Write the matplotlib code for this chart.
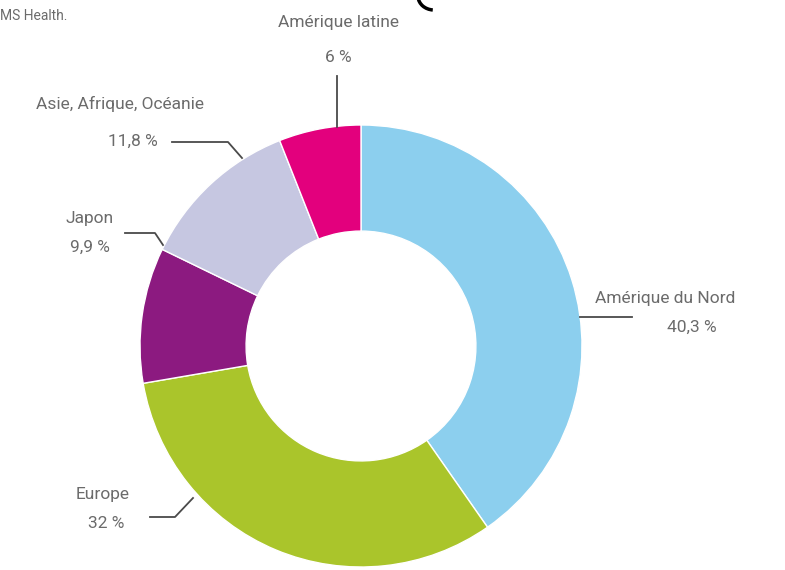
import matplotlib.pyplot as plt
from matplotlib.patches import Arc

# market share by region (%)
regions = ["Amérique du Nord", "Europe", "Japon", "Asie, Afrique, Océanie", "Amérique latine"]
shares = [40.3, 32, 9.9, 11.8, 6]
share_labels = ["40,3 %", "32 %", "9,9 %", "11,8 %", "6 %"]
colors = ["#8ccfee", "#aac52b", "#8c1a80", "#c6c7e1", "#e3007d"]

W, H = 785, 570
fig = plt.figure(figsize=(W / 100, H / 100), dpi=100)
ax = fig.add_axes([0, 0, 1, 1])

def Y(y):
    # pixel row -> data y
    return H - y

cx, cy, r = 361, 346, 221
ax.pie(shares, colors=colors, startangle=90, counterclock=False,
       center=(cx, Y(cy)), radius=r, frame=True,
       wedgeprops=dict(width=r * 0.48, edgecolor='white', linewidth=1))
ax.set_xlim(0, W)
ax.set_ylim(0, H)
ax.set_aspect('auto')
ax.axis('off')

txt = dict(color='#6b6b6b', fontsize=12.5, family='Roboto', ha='center', va='center')
lc = '#4a4a4a'

# Amérique du Nord
ax.text(665, Y(298), regions[0], **txt)
ax.text(692, Y(327), share_labels[0], **txt)
ax.plot([580, 632], [Y(317), Y(317)], color=lc, lw=1.3)

# Europe
ax.text(103, Y(495), regions[1], **txt)
ax.text(106, Y(524), share_labels[1], **txt)
ax.plot([150, 175, 193], [Y(517), Y(517), Y(498)], color=lc, lw=1.3)

# Japon
ax.text(90, Y(219), regions[2], **txt)
ax.text(90, Y(247), share_labels[2], **txt)
ax.plot([125, 155, 163], [Y(233), Y(233), Y(245)], color=lc, lw=1.3)

# Asie, Afrique, Océanie
ax.text(120, Y(104), regions[3], **txt)
ax.text(133, Y(141), share_labels[3], **txt)
ax.plot([172, 228, 242], [Y(142), Y(142), Y(158)], color=lc, lw=1.3)

# Amérique latine
ax.text(338, Y(22), regions[4], **txt)
ax.text(338, Y(58), share_labels[4], **txt)
ax.plot([337, 337], [Y(76), Y(127)], color=lc, lw=1.3)

# cropped source note and title remnant
ax.text(0, Y(16), "MS Health.", color='#6b6b6b', fontsize=10, family='Roboto',
        ha='left', va='center')
ax.add_patch(Arc((434, Y(-4)), 32, 28, theta1=185, theta2=265, color='black', lw=2.5))

fig.savefig('out.png', dpi=100)
